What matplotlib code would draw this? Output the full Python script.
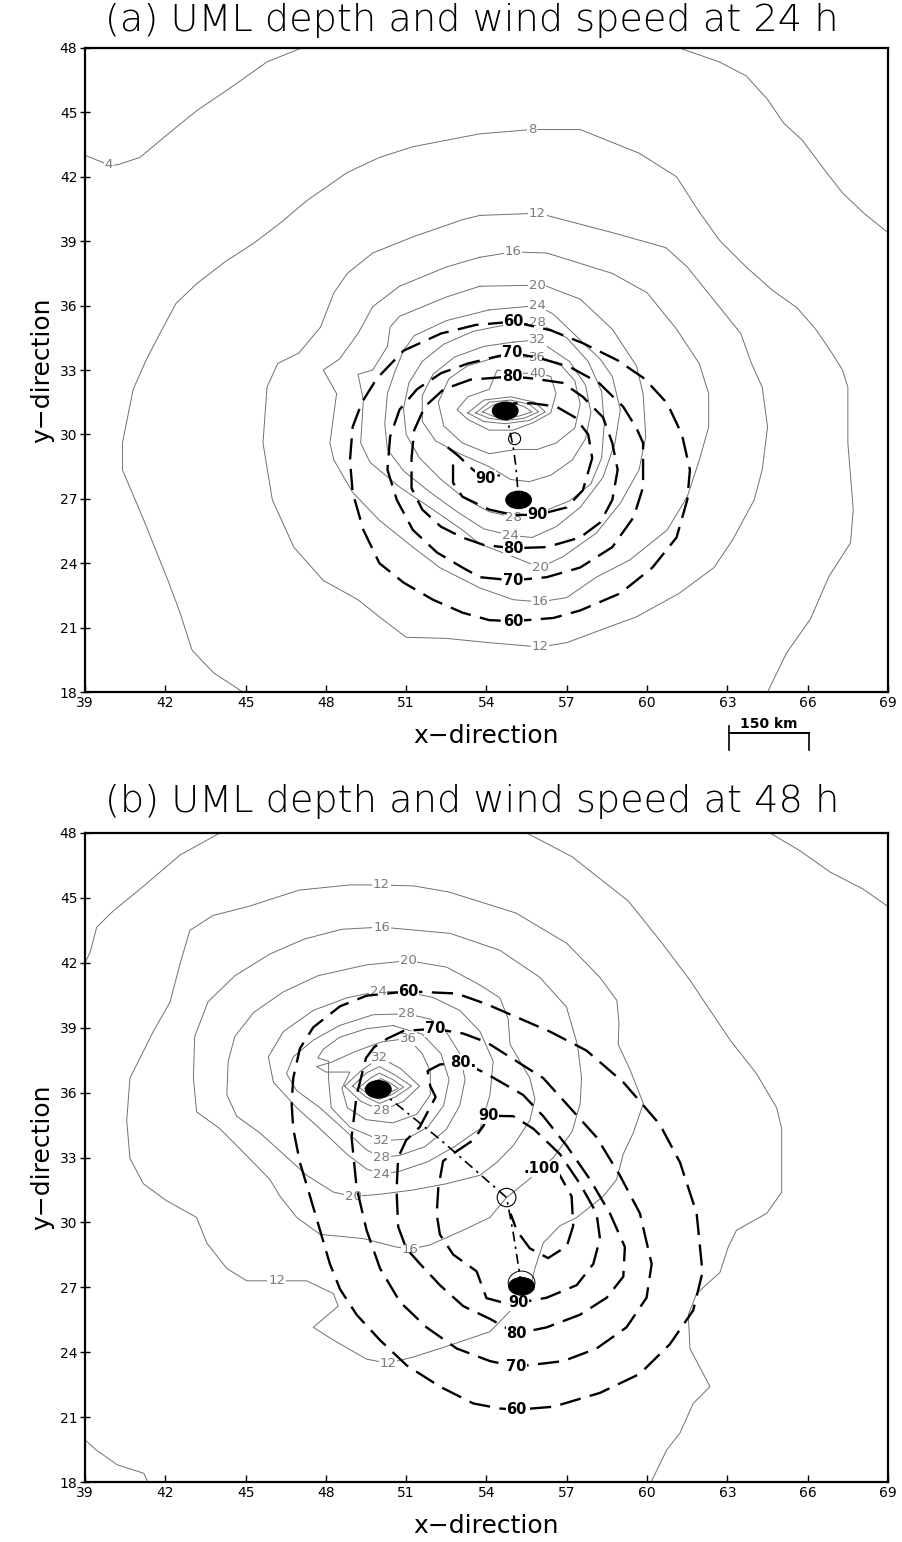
import matplotlib.pyplot as plt
from matplotlib.patches import Ellipse

# ---------------- panel (a): UML depth contours (x, y)
a_d4_left = [(39.0, 43.0), (39.9, 42.55), (40.2, 42.55), (41.05, 42.9), (42.4, 44.3), (43.2, 45.1),
             (44.5, 46.2), (45.8, 47.35), (47.1, 48.0)]
a_d4_right = [(61.2, 48.0), (62.7, 47.35), (63.7, 46.7), (64.5, 45.6), (65.1, 44.5), (65.8, 43.7),
              (66.7, 42.2), (67.3, 41.25), (68.1, 40.3), (69.0, 39.4)]
a_d8 = [(44.9, 18.0), (43.8, 18.9), (43.0, 19.95), (42.55, 21.7), (42.1, 23.2), (41.2, 26.0), (40.4, 28.35),
        (40.4, 29.6), (40.8, 32.1), (41.3, 33.5), (41.8, 34.7), (42.4, 36.1), (43.2, 37.05), (44.3, 38.1),
        (45.3, 38.9), (46.3, 39.85), (47.3, 40.9), (48.8, 42.2), (50.0, 42.9), (51.25, 43.4), (53.75, 44.0),
        (55.7, 44.2), (57.5, 44.2), (59.7, 43.1), (61.1, 42.0), (61.9, 40.45), (62.7, 39.05), (63.7, 37.8),
        (64.7, 36.7), (65.6, 35.9), (66.3, 34.9), (66.9, 33.8), (67.3, 33.0), (67.5, 32.2), (67.5, 29.6),
        (67.7, 26.5), (67.6, 24.95), (66.8, 23.4), (66.1, 21.4), (65.2, 19.8), (64.5, 18.0)]
a_d12 = [(53.75, 40.2), (53.1, 40.0), (51.25, 39.2), (49.75, 38.45), (48.8, 37.5), (48.3, 36.6), (47.8, 35.0),
         (47.0, 33.8), (46.2, 33.3), (45.8, 32.2), (45.65, 29.6), (46.0, 26.95), (46.8, 24.75), (47.9, 23.2),
         (49.2, 22.3), (50.0, 21.5), (51.0, 20.55), (52.5, 20.5), (54.1, 20.3), (56.0, 20.1), (57.0, 20.3),
         (58.5, 21.0), (59.6, 21.5), (61.2, 22.6), (62.5, 23.8), (63.2, 25.1), (64.0, 26.95), (64.3, 28.35),
         (64.5, 30.35), (64.3, 32.2), (63.9, 33.3), (63.5, 34.7), (62.5, 36.25), (61.5, 37.8), (60.7, 38.7),
         (58.7, 39.4), (56.25, 40.2), (55.9, 40.3), (53.75, 40.2)]
a_d16 = [(53.75, 38.25), (52.5, 37.8), (50.75, 36.9), (49.75, 35.95), (49.2, 34.7), (48.5, 33.5), (47.9, 33.0),
         (48.4, 31.9), (48.15, 29.6), (48.3, 28.8), (49.0, 27.3), (50.0, 26.0), (51.25, 24.75), (52.25, 23.8),
         (53.75, 22.85), (55.0, 22.3), (56.0, 22.2), (57.0, 22.4), (58.1, 23.35), (59.35, 24.15), (60.75, 25.55),
         (61.5, 27.1), (61.95, 28.8), (62.3, 30.35), (62.3, 31.9), (61.95, 33.3), (61.1, 34.9), (60.0, 36.6),
         (58.7, 37.5), (56.25, 38.45), (55.0, 38.5), (53.75, 38.25)]
a_d20 = [(53.75, 36.9), (52.5, 36.4), (50.75, 35.5), (50.4, 35.0), (50.3, 34.1), (49.75, 33.0), (49.2, 32.8),
         (49.4, 31.6), (49.3, 29.6), (49.65, 28.7), (50.75, 27.55), (52.0, 26.5), (53.1, 25.55), (53.75, 24.9),
         (55.0, 24.3), (56.0, 23.8), (56.85, 24.3), (58.1, 25.4), (59.0, 26.8), (59.7, 28.35), (59.95, 29.9),
         (59.85, 31.9), (59.6, 33.2), (58.7, 34.9), (57.5, 36.3), (56.25, 36.9), (55.9, 36.95), (53.75, 36.9)]
a_d24 = [(54.1, 35.8), (52.5, 35.3), (51.3, 34.6), (50.9, 33.9), (50.6, 33.0), (50.3, 31.9), (50.2, 30.5),
         (50.3, 29.3), (50.9, 28.3), (51.9, 27.3), (52.9, 26.4), (53.9, 25.6), (54.9, 25.3), (55.7, 25.2),
         (56.6, 25.7), (57.5, 26.6), (58.35, 28.0), (58.8, 29.6), (59.0, 31.15), (58.7, 32.7), (58.25, 33.5),
         (57.5, 34.4), (56.5, 35.6), (55.9, 36.0), (54.1, 35.8)]
a_d28 = [(54.7, 35.1), (53.5, 34.8), (52.4, 34.2), (51.6, 33.4), (51.1, 32.4), (50.9, 31.2), (51.0, 30.0),
         (51.5, 28.9), (52.3, 27.9), (53.2, 27.0), (54.1, 26.4), (55.0, 26.15), (56.1, 26.4), (57.1, 26.9),
         (57.9, 27.7), (58.3, 28.9), (58.4, 30.5), (58.3, 32.0), (57.8, 33.4), (57.0, 34.5), (55.9, 35.2),
         (54.7, 35.1)]
a_d32 = [(55.0, 34.3), (53.9, 34.1), (52.8, 33.6), (52.0, 32.8), (51.6, 31.8), (51.6, 30.6), (52.1, 29.7),
         (53.0, 29.1), (54.1, 28.5), (54.9, 27.9), (55.6, 27.8), (56.4, 28.1), (57.2, 28.8), (57.7, 29.8),
         (57.9, 31.0), (57.7, 32.3), (57.1, 33.4), (55.9, 34.4), (55.0, 34.3)]
a_d36 = [(54.4, 33.6), (53.3, 33.2), (52.6, 32.6), (52.2, 31.5), (52.4, 30.4), (53.1, 29.6), (54.1, 29.1),
         (55.1, 29.3), (55.9, 29.3), (56.6, 29.6), (57.3, 30.3), (57.5, 31.4), (57.3, 32.5), (56.8, 33.2),
         (55.9, 33.6), (54.4, 33.6)]
a_d40 = [(55.1, 32.85), (54.4, 33.0), (54.1, 32.1), (53.3, 31.75), (52.9, 31.15), (53.3, 30.7), (54.1, 30.2),
         (55.0, 30.2), (55.75, 30.55), (56.4, 31.0), (56.6, 31.9), (56.4, 32.7), (55.9, 32.85), (55.1, 32.85)]
a_rings = [
    [(53.3, 31.0), (53.9, 31.6), (54.9, 31.75), (55.8, 31.5), (56.2, 31.05), (55.6, 30.65), (54.7, 30.5), (53.9, 30.6), (53.3, 31.0)],
    [(53.6, 31.0), (54.1, 31.5), (54.9, 31.6), (55.6, 31.4), (55.95, 31.05), (55.4, 30.75), (54.7, 30.65), (54.1, 30.75), (53.6, 31.0)],
    [(53.85, 31.05), (54.3, 31.4), (54.9, 31.5), (55.4, 31.3), (55.7, 31.05), (55.2, 30.85), (54.7, 30.8), (54.25, 30.85), (53.85, 31.05)],
]
a_depth = [a_d4_left, a_d4_right, a_d8, a_d12, a_d16, a_d20, a_d24, a_d28, a_d32, a_d36, a_d40] + a_rings
a_depth_labels = [("4", 39.9, 42.55), ("8", 55.7, 44.2), ("12", 55.9, 40.3), ("16", 55.0, 38.5),
                  ("20", 55.9, 36.95), ("24", 55.9, 36.0), ("28", 55.9, 35.2), ("32", 55.9, 34.4),
                  ("36", 55.9, 33.6), ("40", 55.9, 32.85), ("12", 56.0, 20.1), ("16", 56.0, 22.2),
                  ("20", 56.0, 23.8), ("24", 54.9, 25.3), ("28", 55.0, 26.15)]

# ---------------- panel (a): wind speed contours
a_w60 = [(55.0, 35.25), (56.4, 34.85), (57.6, 34.25), (58.9, 33.45), (59.9, 32.6), (60.75, 31.45), (61.3, 30.0),
         (61.6, 28.35), (61.5, 26.95), (61.1, 25.2), (60.2, 23.8), (59.0, 22.6), (57.5, 21.8), (56.5, 21.45),
         (55.0, 21.3), (54.1, 21.35), (53.1, 21.7), (52.0, 22.3), (50.9, 23.1), (50.0, 24.0), (49.4, 25.55),
         (49.0, 27.3), (48.9, 28.8), (49.0, 30.35), (49.35, 31.5), (49.9, 32.6), (50.9, 33.9), (52.3, 34.7),
         (53.6, 35.1), (55.0, 35.25)]
a_w70 = [(54.95, 33.8), (56.0, 33.55), (57.1, 33.15), (58.2, 32.4), (59.1, 31.3), (59.6, 30.3), (59.85, 29.6),
         (59.85, 27.55), (59.5, 26.15), (58.7, 24.75), (57.5, 23.8), (56.25, 23.35), (55.0, 23.2), (53.75, 23.35),
         (53.1, 23.8), (52.15, 24.5), (51.25, 25.55), (50.65, 26.95), (50.3, 28.35), (50.4, 29.9), (50.75, 31.15),
         (51.4, 32.1), (52.3, 32.85), (53.3, 33.3), (54.95, 33.8)]
a_w80 = [(54.95, 32.7), (55.75, 32.6), (56.85, 32.4), (57.6, 31.75), (58.35, 30.8), (58.7, 29.6), (58.9, 28.35),
         (58.7, 26.95), (58.25, 25.9), (57.5, 25.2), (56.25, 24.75), (55.0, 24.7), (53.9, 24.85), (53.1, 25.2),
         (52.3, 25.7), (51.6, 26.5), (51.2, 27.5), (51.2, 28.9), (51.3, 30.2), (51.7, 31.3), (52.4, 32.1),
         (53.4, 32.55), (54.95, 32.7)]
a_w90_1 = [(52.55, 29.4), (52.95, 29.0), (53.5, 28.35), (53.95, 27.95), (54.5, 28.1)]
a_w90_2 = [(52.75, 28.6), (52.75, 27.75), (53.1, 27.1), (54.1, 26.5), (55.0, 26.25), (55.9, 26.25), (57.0, 26.6),
           (57.6, 27.4), (57.95, 28.9), (57.8, 30.0), (57.3, 30.8), (56.6, 31.3), (55.7, 31.45), (55.0, 31.45)]
a_wind = [a_w60, a_w70, a_w80, a_w90_1, a_w90_2]
a_wind_labels = [("60", 55.0, 35.25), ("70", 54.95, 33.8), ("80", 54.95, 32.7), ("90", 53.95, 27.95),
                 ("90", 55.9, 26.25), ("80", 55.0, 24.7), ("70", 55.0, 23.2), ("60", 55.0, 21.3)]
a_track = [(54.7, 31.1), (54.85, 30.3), (55.0, 29.4), (55.1, 28.5), (55.2, 26.95)]
a_dots = [(54.7, 31.1), (55.2, 26.95)]
a_open = [(55.05, 29.8)]

# ---------------- panel (b): UML depth contours
b_d4 = [(64.59, 48.0), (65.71, 47.18), (66.83, 46.2), (68.08, 45.4), (69.0, 44.6)]
b_d8_tl = [(44.04, 48.0), (42.55, 46.98), (41.05, 45.4), (40.06, 44.4), (39.44, 43.65), (39.19, 42.47), (39.0, 42.0)]
b_d8_bl = [(39.0, 19.95), (39.4, 19.5), (40.2, 18.8), (41.2, 18.4), (41.35, 18.0)]
b_d8 = [(55.5, 48.0), (57.2, 46.9), (59.3, 44.85), (60.5, 43.0), (61.6, 41.2), (62.3, 39.9), (63.1, 38.43),
        (64.09, 36.87), (64.84, 35.3), (65.03, 34.33), (65.03, 31.4), (64.47, 30.42), (63.34, 29.64), (63.03, 28.86),
        (62.72, 27.69), (61.85, 26.71), (61.54, 25.73), (61.6, 24.17), (62.35, 22.41), (61.72, 21.63),
        (61.23, 20.27), (60.73, 19.48), (60.15, 18.0)]
b_d12 = [(50.08, 45.6), (51.3, 45.55), (52.6, 45.27), (55.1, 44.3), (57.0, 42.9), (58.24, 41.32), (58.87, 40.26),
         (58.95, 39.2), (58.92, 38.23), (59.36, 37.06), (59.86, 35.5), (59.48, 34.13), (59.11, 33.16), (58.86, 31.98),
         (58.36, 31.2), (57.37, 30.23), (56.74, 29.84), (56.12, 29.05), (55.81, 27.88), (55.62, 26.91), (54.75, 25.73),
         (54.13, 24.95), (52.51, 24.27), (51.27, 23.78), (50.33, 23.49), (49.52, 23.68), (48.28, 24.56), (47.53, 25.15),
         (48.46, 26.13), (48.28, 26.71), (47.28, 27.3), (46.16, 27.3), (45.04, 27.3), (44.29, 27.88), (43.55, 29.05),
         (43.17, 30.23), (42.05, 31.0), (41.18, 31.79), (40.68, 32.96), (40.56, 34.72), (40.68, 36.67), (41.55, 38.82),
         (42.18, 40.19), (42.55, 41.95), (42.92, 43.5), (43.79, 44.19), (45.1, 44.6), (47.0, 45.36), (48.9, 45.6),
         (50.08, 45.6)]
b_d16 = [(50.08, 43.65), (48.6, 43.55), (47.2, 43.1), (45.9, 42.4), (44.6, 41.4), (43.6, 40.2), (43.1, 38.6),
         (43.05, 36.67), (43.17, 35.11), (44.04, 34.33), (44.67, 33.55), (45.29, 32.77), (45.91, 31.98), (46.29, 31.2),
         (46.91, 30.23), (47.78, 29.45), (49.4, 29.25), (50.64, 28.86), (51.14, 28.76), (51.89, 28.96), (53.13, 29.64),
         (54.13, 30.23), (54.75, 31.15), (55.6, 32.0), (56.5, 33.0), (57.2, 34.2), (57.5, 35.5), (57.55, 36.7),
         (57.4, 38.2), (56.99, 39.95), (56.0, 41.32), (54.5, 42.58), (52.64, 43.36), (50.08, 43.65)]
b_d20 = [(51.08, 42.1), (49.5, 41.9), (47.7, 41.4), (46.4, 40.65), (45.3, 39.7), (44.6, 38.6), (44.35, 37.45),
         (44.3, 35.9), (44.67, 34.91), (45.54, 34.13), (46.41, 33.16), (47.28, 32.18), (48.28, 31.4), (49.02, 31.2),
         (50.02, 31.3), (51.27, 31.5), (52.51, 31.79), (53.76, 32.18), (54.38, 32.77), (55.0, 33.55), (55.62, 34.72),
         (55.81, 35.7), (55.62, 36.67), (54.88, 38.23), (54.81, 39.41), (54.5, 40.38), (53.76, 40.97),
         (52.51, 41.8), (51.08, 42.1)]
b_d24 = [(49.96, 40.68), (48.78, 40.38), (47.53, 39.8), (46.41, 38.82), (45.85, 37.65), (46.04, 36.48),
         (46.91, 35.3), (47.78, 34.33), (48.78, 33.16), (49.52, 32.47), (50.08, 32.22), (50.77, 32.37), (51.8, 32.8),
         (52.8, 33.5), (53.76, 34.33), (54.13, 35.89), (54.25, 37.45), (53.76, 38.82), (53.0, 39.8), (52.0, 40.4),
         (51.0, 40.65), (49.96, 40.68)]
b_d28 = [(51.02, 39.64), (49.77, 39.6), (48.53, 39.11), (47.53, 38.43), (46.78, 37.65), (46.53, 36.87),
         (46.91, 36.09), (47.78, 35.3), (48.65, 34.33), (49.52, 33.35), (50.08, 33.0), (50.77, 33.1), (51.7, 33.5),
         (52.5, 34.3), (53.0, 35.4), (53.2, 36.6), (53.0, 37.8), (52.5, 38.8), (51.9, 39.4), (51.02, 39.64)]
b_d32 = [(50.5, 39.1), (49.5, 38.95), (48.5, 38.55), (47.9, 38.0), (47.7, 37.6), (48.1, 37.45), (48.1, 36.6),
         (48.2, 35.3), (48.9, 34.4), (50.08, 33.77), (51.0, 33.85), (51.8, 34.4), (52.4, 35.4), (52.6, 36.6),
         (52.3, 37.8), (51.6, 38.7), (50.5, 39.1)]
b_d36 = [(51.07, 38.5), (50.1, 38.35), (49.1, 37.9), (48.2, 37.4), (47.65, 37.2), (48.0, 36.95), (48.9, 36.95),
         (48.6, 36.2), (48.8, 35.3), (49.5, 34.75), (50.5, 34.6), (51.4, 35.0), (51.9, 35.9), (51.9, 37.0),
         (51.6, 37.8), (51.07, 38.5)]
b_rings = [
    [(48.7, 36.3), (49.3, 37.0), (50.02, 37.63), (50.8, 37.1), (51.5, 36.3), (50.9, 35.6), (50.08, 35.16), (49.3, 35.6), (48.7, 36.3)],
    [(49.0, 36.3), (49.5, 36.9), (50.0, 37.2), (50.6, 36.8), (51.2, 36.3), (50.6, 35.8), (50.0, 35.5), (49.5, 35.8), (49.0, 36.3)],
    [(49.25, 36.25), (49.7, 36.7), (50.0, 36.9), (50.5, 36.6), (50.9, 36.25), (50.45, 35.9), (50.0, 35.7), (49.6, 35.9), (49.25, 36.25)],
    [(49.45, 36.2), (49.8, 36.5), (50.05, 36.65), (50.4, 36.45), (50.7, 36.2), (50.3, 35.95), (50.0, 35.85), (49.7, 35.95), (49.45, 36.2)],
]
b_depth = [b_d4, b_d8_tl, b_d8_bl, b_d8, b_d12, b_d16, b_d20, b_d24, b_d28, b_d32, b_d36] + b_rings
b_depth_labels = [("12", 50.08, 45.6), ("16", 50.08, 43.65), ("20", 51.08, 42.1), ("24", 49.96, 40.68),
                  ("28", 51.02, 39.64), ("36", 51.07, 38.5), ("32", 50.02, 37.63), ("28", 50.08, 35.16),
                  ("32", 50.08, 33.77), ("28", 50.08, 33.0), ("24", 50.08, 32.22), ("20", 49.02, 31.2),
                  ("16", 51.14, 28.76), ("12", 46.16, 27.3), ("12", 50.33, 23.49)]

# ---------------- panel (b): wind speed contours
b_w60 = [(51.08, 40.68), (49.52, 40.48), (48.53, 39.99), (47.53, 39.02), (47.03, 38.04), (46.78, 36.67),
         (46.72, 35.5), (46.78, 34.33), (47.03, 32.77), (47.41, 31.2), (47.78, 29.64), (48.15, 28.08), (48.53, 26.91),
         (49.15, 25.73), (50.02, 24.56), (51.02, 23.39), (52.26, 22.41), (53.51, 21.63), (54.5, 21.4), (55.12, 21.34),
         (56.5, 21.48), (58.24, 22.12), (59.73, 23.0), (60.85, 24.37), (61.72, 25.93), (62.07, 27.69), (61.85, 30.42),
         (61.23, 32.77), (60.48, 34.52), (59.11, 36.48), (57.74, 37.94), (56.37, 38.82), (54.0, 40.09), (52.89, 40.58),
         (51.08, 40.68)]
b_w70 = [(52.07, 38.95), (50.9, 38.85), (50.3, 38.5), (49.8, 38.1), (49.5, 37.6), (49.15, 35.89), (48.96, 33.94),
         (49.15, 31.59), (49.52, 29.64), (50.02, 27.88), (50.77, 26.32), (51.76, 25.15), (52.89, 24.17), (54.13, 23.59),
         (55.12, 23.33), (56.87, 23.59), (58.11, 24.17), (59.23, 25.15), (59.98, 26.52), (60.17, 28.08), (59.73, 30.42),
         (58.98, 32.18), (58.11, 33.94), (57.12, 35.3), (56.12, 36.67), (54.0, 38.33), (53.13, 38.73), (52.07, 38.95)]
b_w80 = [(53.13, 37.4), (54.0, 36.87), (55.37, 35.89), (56.12, 34.91), (56.99, 33.55), (57.87, 31.98), (58.61, 30.42),
         (59.17, 28.86), (59.11, 27.49), (58.49, 26.52), (57.49, 25.73), (56.25, 25.15), (55.12, 24.86), (54.13, 25.54),
         (53.13, 26.13), (52.26, 27.1), (51.52, 28.08), (51.0, 28.8), (50.7, 29.8), (50.64, 31.5), (50.7, 33.0),
         (51.0, 33.8), (51.5, 34.4), (52.1, 35.8), (51.9, 36.3), (51.8, 37.0), (52.26, 37.3), (53.13, 37.4)]
b_w90 = [(54.07, 34.93), (53.88, 34.45), (53.5, 33.8), (52.9, 33.3), (52.38, 32.84), (52.2, 31.6), (52.14, 30.37),
         (52.26, 29.44), (52.76, 28.51), (53.63, 27.74), (54.0, 26.5), (54.6, 26.3), (55.19, 26.28), (56.25, 26.52),
         (57.37, 27.1), (57.99, 28.08), (58.24, 29.25), (58.11, 30.42), (57.49, 31.79), (56.74, 33.16), (55.75, 34.33),
         (55.0, 34.91), (54.07, 34.93)]
b_w100 = [(56.4, 32.35), (56.74, 32.18), (57.18, 31.2), (57.24, 29.84), (57.0, 28.9), (56.3, 28.35), (55.62, 28.8),
          (55.14, 29.6), (54.9, 30.4)]
b_wind = [b_w60, b_w70, b_w80, b_w90, b_w100]
b_wind_labels = [("60", 51.08, 40.68), ("70", 52.07, 38.95), ("80.", 53.13, 37.4), ("90", 54.07, 34.93),
                 (".100", 56.06, 32.47), ("90", 55.19, 26.28), ("80", 55.12, 24.86), ("70", 55.12, 23.33),
                 ("60", 55.12, 21.34)]
b_track = [(49.96, 36.15), (52.3, 33.8), (54.75, 31.15), (55.0, 29.5), (55.31, 27.05)]
b_dots = [(49.96, 36.15), (55.31, 27.05)]
b_open = [(54.75, 31.15)]

xticks = [39, 42, 45, 48, 51, 54, 57, 60, 63, 66, 69]
yticks = [18, 21, 24, 27, 30, 33, 36, 39, 42, 45, 48]

DEPTH_C = '#707070'


def draw_panel(ax, depth, depth_labels, wind, wind_labels, track, dots, opens, open_size):
    for line in depth:
        xs, ys = zip(*line)
        ax.plot(xs, ys, color=DEPTH_C, lw=0.7, zorder=2)
    for txt, x, y in depth_labels:
        ax.text(x, y, txt, ha='center', va='center', fontsize=9.5, color='#7a7a7a', zorder=3,
                bbox=dict(fc='white', ec='none', pad=0.5))
    for line in wind:
        xs, ys = zip(*line)
        ax.plot(xs, ys, color='black', lw=1.7, dashes=(9, 4), zorder=4)
    for txt, x, y in wind_labels:
        ax.text(x, y, txt, ha='center', va='center', fontsize=10.5, fontweight='bold', color='black',
                zorder=5, bbox=dict(fc='white', ec='none', pad=0.3))
    xs, ys = zip(*track)
    ax.plot(xs, ys, color='black', lw=1.2, dashes=(6, 3, 1.5, 3), zorder=4)
    for x, y in dots:
        ax.add_patch(Ellipse((x, y), 0.95, 0.8, fc='black', ec='black', zorder=6))
    for x, y in opens:
        ax.add_patch(Ellipse((x, y), open_size[0], open_size[1], fc='none', ec='black', lw=0.8, zorder=6))

    ax.set_xlim(39, 69)
    ax.set_ylim(18, 48)
    ax.set_xticks(xticks)
    ax.set_yticks(yticks)
    ax.tick_params(axis='x', direction='in', length=5, width=1, labelsize=10, pad=3)
    ax.tick_params(axis='y', direction='inout', length=7, width=1, labelsize=10, pad=2)
    for lab in ax.get_xticklabels() + ax.get_yticklabels():
        lab.set_family(['Liberation Sans Narrow', 'DejaVu Sans'])
    for sp in ax.spines.values():
        sp.set_linewidth(1.6)
    ax.set_xlabel('x\u2212direction', fontsize=18, labelpad=10)
    ax.set_ylabel('y\u2212direction', fontsize=18, labelpad=4)


fig = plt.figure(figsize=(9.02, 15.42), dpi=100)
ax_a = fig.add_axes([0.0942, 0.5512, 0.8903, 0.4177])
ax_b = fig.add_axes([0.0942, 0.0389, 0.8903, 0.4209])

draw_panel(ax_a, a_depth, a_depth_labels, a_wind, a_wind_labels, a_track, a_dots, a_open, (0.45, 0.55))
draw_panel(ax_b, b_depth, b_depth_labels, b_wind, b_wind_labels, b_track, b_dots, b_open, (0.7, 0.85))

# thin ring round the lower centre in (b)
ax_b.add_patch(Ellipse((55.31, 27.2), 1.0, 1.1, fc='none', ec='black', lw=0.7, zorder=5))

fig.text(0.523, 0.9865, '(a) UML depth and wind speed at 24 h', ha='center', va='center',
         fontsize=27.5, fontweight='light')
fig.text(0.523, 0.4800, '(b) UML depth and wind speed at 48 h', ha='center', va='center',
         fontsize=27.5, fontweight='light')

# 150 km scale bar under panel (a)
ax_a.plot([63.05, 66.05], [16.1, 16.1], color='black', lw=1.4, clip_on=False)
ax_a.plot([63.05, 63.05], [16.4, 15.3], color='black', lw=1.2, clip_on=False)
ax_a.plot([66.05, 66.05], [16.1, 15.3], color='black', lw=1.2, clip_on=False)
ax_a.text(64.55, 16.2, '150 km', ha='center', va='bottom', fontsize=10, fontweight='bold', clip_on=False)

fig.savefig('out.png', dpi=100)
